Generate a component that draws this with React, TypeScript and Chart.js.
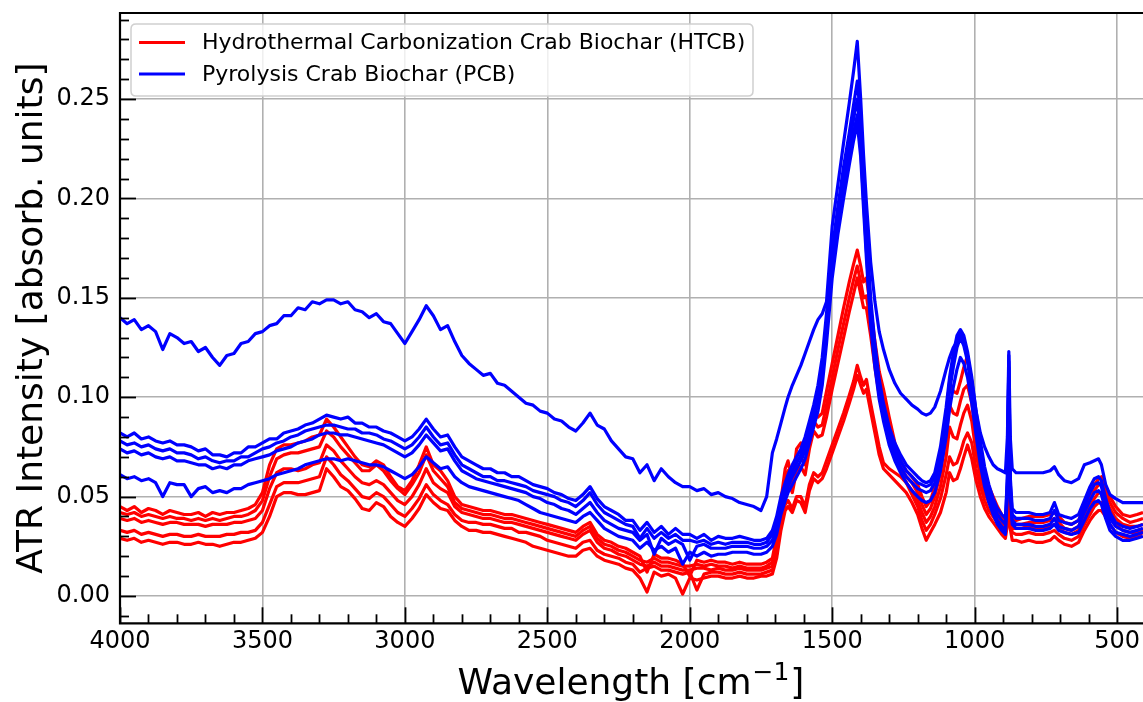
import React, { useEffect, useRef } from "react";
import { Chart, registerables } from "chart.js";

Chart.register(...registerables);

// Wavenumber axis shared by every spectrum (cm^-1)
const WAVENUMBERS = [
  4000, 3975, 3950, 3925, 3900, 3875, 3850, 3825, 3800, 3775,
  3750, 3725, 3700, 3675, 3650, 3625, 3600, 3575, 3550, 3525,
  3500, 3475, 3450, 3425, 3400, 3375, 3350, 3325, 3300, 3275,
  3250, 3225, 3200, 3175, 3150, 3125, 3100, 3075, 3050, 3025,
  3000, 2975, 2950, 2925, 2900, 2875, 2850, 2825, 2800, 2775,
  2750, 2725, 2700, 2675, 2650, 2625, 2600, 2575, 2550, 2525,
  2500, 2475, 2450, 2425, 2400, 2375, 2350, 2325, 2300, 2275,
  2250, 2225, 2200, 2175, 2150, 2125, 2100, 2075, 2050, 2025,
  2000, 1975, 1950, 1925, 1900, 1875, 1850, 1825, 1800, 1775,
  1750,
  1730, 1710, 1695, 1680, 1665, 1655, 1640, 1625, 1610, 1595,
  1580, 1565, 1550, 1535, 1520, 1500, 1480, 1460, 1440, 1425,
  1412, 1400, 1390, 1380, 1365, 1350, 1335, 1320, 1300, 1280,
  1260, 1240, 1220, 1200, 1185, 1170, 1155, 1140, 1120, 1100,
  1088, 1075, 1062, 1050, 1038, 1025, 1010, 995, 980, 965,
  950, 935, 920, 905, 892, 885, 880, 875, 868, 855,
  835, 810, 785, 760, 735, 720, 705, 685, 660, 635,
  615, 595, 580, 565, 555, 540, 525, 505, 480, 455,
  430, 409,
];

// Pyrolysis crab biochar (PCB) replicates, absorbance units
const PCB_1 = [
  .140, .137, .139, .134, .136, .133, .124, .132, .130, .127,
  .128, .123, .125, .120, .116, .121, .122, .127, .128, .132,
  .133, .136, .137, .141, .141, .145, .144, .148, .147, .149,
  .149, .147, .148, .144, .143, .140, .142, .138, .137, .132,
  .127, .133, .139, .146, .141, .134, .136, .128, .121, .117,
  .114, .111, .112, .107, .106, .103, .100, .097, .096, .093,
  .092, .089, .088, .085, .083, .087, .092, .086, .084, .078,
  .074, .070, .069, .062, .066, .058, .064, .060, .057, .055,
  .055, .053, .054, .051, .052, .050, .049, .047, .046, .045,
  .043,
  .050, .072, .079, .087, .095, .100, .106, .111, .116, .122,
  .128, .134, .139, .142, .148, .186, .207, .228, .248, .264,
  .279, .250, .222, .198, .168, .148, .133, .124, .114, .107,
  .102, .099, .096, .094, .092, .091, .092, .095, .103, .114,
  .120, .125, .128, .129, .127, .120, .108, .093, .082, .075,
  .070, .066, .064, .063, .062, .080, .123, .080, .064, .062,
  .062, .062, .062, .062, .063, .065, .061, .058, .057, .059,
  .066, .067, .068, .069, .066, .056, .051, .049, .047, .047,
  .047, .047,
];

const PCB_2 = [
  .082, .080, .082, .079, .080, .078, .077, .078, .076, .076,
  .075, .073, .074, .071, .071, .070, .072, .072, .075, .075,
  .077, .079, .079, .082, .083, .084, .086, .087, .089, .091,
  .090, .089, .090, .087, .087, .085, .085, .083, .082, .080,
  .078, .080, .084, .089, .084, .080, .081, .075, .070, .068,
  .066, .064, .064, .062, .062, .060, .060, .058, .056, .055,
  .054, .052, .051, .049, .048, .051, .055, .049, .045, .043,
  .041, .038, .038, .033, .037, .032, .035, .031, .034, .031,
  .031, .029, .031, .028, .030, .029, .029, .030, .029, .028,
  .028,
  .029, .033, .040, .050, .057, .061, .066, .070, .074, .080,
  .088, .096, .106, .120, .142, .174, .196, .216, .233, .247,
  .259, .240, .212, .186, .150, .127, .109, .097, .085, .077,
  .071, .066, .063, .060, .058, .057, .058, .062, .075, .095,
  .110, .122, .131, .134, .131, .123, .110, .093, .078, .065,
  .056, .049, .044, .041, .039, .060, .121, .060, .044, .042,
  .042, .042, .041, .041, .042, .047, .041, .040, .039, .041,
  .048, .055, .059, .060, .058, .049, .042, .037, .035, .034,
  .035, .036,
];

const PCB_3 = [
  .078, .076, .077, .075, .076, .074, .073, .074, .072, .072,
  .071, .069, .070, .068, .067, .068, .068, .070, .070, .072,
  .074, .075, .077, .078, .080, .081, .083, .084, .085, .086,
  .086, .085, .084, .084, .082, .082, .081, .079, .078, .076,
  .074, .076, .080, .085, .080, .076, .077, .071, .066, .064,
  .062, .060, .060, .058, .058, .057, .056, .055, .053, .052,
  .051, .050, .048, .047, .045, .048, .052, .046, .042, .040,
  .038, .036, .035, .029, .034, .029, .032, .029, .031, .028,
  .028, .027, .028, .026, .027, .026, .027, .027, .027, .026,
  .026,
  .027, .031, .037, .047, .054, .058, .063, .067, .071, .077,
  .085, .093, .102, .116, .137, .170, .191, .210, .227, .240,
  .250, .232, .205, .180, .145, .123, .106, .094, .082, .074,
  .068, .063, .060, .057, .056, .055, .056, .060, .072, .092,
  .107, .119, .128, .132, .129, .121, .107, .089, .074, .061,
  .052, .046, .041, .038, .036, .058, .118, .057, .041, .039,
  .039, .039, .038, .038, .039, .043, .038, .037, .036, .038,
  .045, .052, .056, .057, .055, .046, .039, .035, .033, .032,
  .033, .034,
];

const PCB_4 = [
  .074, .072, .073, .071, .072, .070, .069, .070, .068, .068,
  .067, .066, .066, .064, .065, .064, .066, .066, .068, .069,
  .070, .071, .073, .074, .075, .077, .078, .079, .081, .082,
  .082, .081, .081, .080, .079, .078, .077, .076, .074, .072,
  .070, .072, .076, .081, .077, .073, .074, .068, .063, .061,
  .059, .058, .057, .056, .055, .054, .053, .052, .050, .049,
  .047, .046, .044, .043, .041, .044, .047, .042, .038, .036,
  .034, .033, .032, .028, .031, .021, .029, .026, .028, .026,
  .018, .025, .026, .024, .024, .024, .025, .025, .025, .024,
  .024,
  .025, .028, .034, .044, .051, .055, .060, .064, .068, .073,
  .081, .089, .098, .111, .132, .165, .186, .205, .221, .233,
  .242, .225, .199, .174, .140, .119, .102, .091, .079, .071,
  .065, .060, .057, .054, .053, .052, .053, .057, .069, .088,
  .103, .115, .125, .130, .126, .118, .103, .085, .070, .058,
  .049, .043, .038, .035, .033, .055, .115, .054, .038, .036,
  .036, .036, .035, .035, .036, .039, .035, .034, .033, .035,
  .042, .048, .052, .053, .051, .043, .036, .032, .031, .030,
  .031, .032,
];

const PCB_5 = [
  .061, .059, .060, .058, .059, .057, .050, .057, .056, .056,
  .050, .054, .055, .052, .053, .052, .054, .054, .056, .057,
  .058, .059, .061, .062, .063, .064, .066, .067, .068, .069,
  .069, .068, .069, .068, .067, .066, .066, .065, .063, .061,
  .059, .061, .065, .070, .067, .064, .065, .060, .057, .055,
  .054, .053, .052, .051, .050, .049, .048, .046, .044, .042,
  .041, .040, .039, .038, .037, .040, .042, .038, .034, .032,
  .030, .029, .028, .024, .027, .023, .025, .022, .024, .016,
  .022, .020, .022, .020, .021, .021, .022, .022, .022, .021,
  .021,
  .022, .025, .031, .041, .048, .052, .056, .060, .064, .069,
  .077, .085, .093, .106, .127, .160, .182, .200, .217, .229,
  .238, .221, .195, .170, .136, .115, .099, .088, .076, .068,
  .062, .057, .053, .050, .048, .047, .048, .052, .063, .080,
  .094, .105, .114, .120, .117, .110, .097, .081, .066, .055,
  .047, .041, .036, .033, .031, .052, .110, .051, .036, .034,
  .034, .034, .033, .033, .034, .036, .033, .032, .031, .032,
  .038, .044, .047, .048, .046, .039, .033, .030, .028, .028,
  .029, .030,
];

// Hydrothermal carbonization crab biochar (HTCB) replicates, absorbance units
const HTCB_1 = [
  .045, .043, .045, .042, .044, .043, .041, .043, .042, .041,
  .041, .042, .040, .042, .041, .042, .042, .043, .044, .046,
  .052, .066, .074, .076, .076, .077, .078, .080, .081, .089,
  .085, .080, .075, .070, .066, .065, .068, .066, .060, .055,
  .053, .058, .066, .075, .066, .063, .058, .050, .046, .045,
  .044, .043, .043, .042, .041, .041, .040, .039, .038, .037,
  .036, .035, .034, .033, .032, .035, .037, .031, .028, .027,
  .025, .024, .022, .020, .012, .021, .019, .019, .018, .016,
  .010, .018, .017, .018, .017, .017, .016, .017, .016, .016,
  .016,
  .017, .019, .030, .048, .064, .068, .057, .074, .077, .072,
  .084, .092, .090, .092, .103, .117, .131, .145, .158, .167,
  .174, .166, .158, .160, .145, .128, .113, .104, .090, .077,
  .068, .063, .060, .056, .050, .045, .048, .055, .070, .090,
  .108, .103, .102, .108, .115, .121, .108, .088, .072, .062,
  .055, .050, .045, .041, .038, .046, .068, .044, .038, .038,
  .039, .040, .040, .040, .041, .042, .040, .037, .036, .038,
  .046, .052, .056, .059, .060, .055, .050, .045, .041, .040,
  .041, .042,
];

const HTCB_2 = [
  .042, .041, .042, .040, .041, .040, .039, .040, .039, .039,
  .038, .039, .038, .039, .038, .039, .040, .040, .041, .043,
  .048, .060, .069, .071, .072, .072, .073, .074, .075, .083,
  .080, .075, .071, .067, .063, .063, .066, .063, .058, .054,
  .051, .056, .062, .071, .063, .059, .055, .047, .044, .043,
  .042, .041, .041, .040, .039, .039, .038, .037, .036, .035,
  .034, .033, .032, .031, .030, .033, .035, .029, .026, .025,
  .023, .022, .020, .018, .017, .019, .017, .017, .016, .015,
  .015, .016, .015, .016, .015, .015, .014, .015, .014, .014,
  .014,
  .015, .017, .027, .045, .060, .063, .054, .068, .070, .066,
  .079, .088, .085, .086, .096, .110, .124, .137, .150, .159,
  .166, .158, .150, .151, .137, .120, .106, .099, .085, .073,
  .065, .060, .057, .052, .046, .041, .044, .050, .062, .080,
  .096, .092, .091, .098, .104, .106, .097, .080, .066, .057,
  .051, .046, .042, .039, .036, .044, .064, .042, .036, .036,
  .036, .037, .037, .037, .038, .039, .037, .034, .033, .035,
  .042, .049, .053, .056, .057, .052, .047, .042, .039, .037,
  .038, .039,
];

const HTCB_3 = [
  .039, .038, .039, .037, .038, .037, .036, .037, .037, .036,
  .036, .036, .035, .036, .036, .036, .037, .037, .038, .039,
  .043, .054, .062, .064, .064, .063, .064, .066, .067, .076,
  .073, .068, .064, .060, .057, .056, .058, .056, .052, .048,
  .046, .050, .056, .064, .057, .054, .052, .045, .042, .041,
  .040, .039, .039, .038, .037, .037, .036, .035, .034, .033,
  .032, .031, .030, .029, .028, .031, .033, .027, .024, .023,
  .021, .020, .018, .016, .015, .017, .015, .015, .014, .013,
  .013, .014, .014, .013, .014, .013, .013, .014, .013, .013,
  .013,
  .014, .015, .025, .042, .055, .058, .052, .063, .065, .061,
  .074, .083, .080, .081, .090, .104, .117, .130, .143, .152,
  .160, .152, .145, .145, .131, .115, .101, .094, .080, .070,
  .063, .057, .053, .048, .042, .037, .040, .045, .055, .070,
  .085, .080, .079, .086, .092, .096, .088, .072, .060, .052,
  .047, .043, .040, .037, .034, .042, .060, .040, .034, .034,
  .034, .035, .034, .034, .035, .036, .034, .032, .031, .033,
  .039, .045, .049, .052, .052, .048, .044, .039, .036, .035,
  .035, .036,
];

const HTCB_4 = [
  .033, .032, .033, .031, .032, .031, .030, .031, .031, .030,
  .030, .031, .030, .030, .030, .031, .031, .032, .032, .033,
  .037, .046, .055, .057, .057, .057, .058, .059, .060, .070,
  .066, .061, .058, .054, .050, .049, .052, .050, .046, .042,
  .040, .044, .049, .056, .051, .048, .046, .041, .038, .037,
  .037, .036, .036, .035, .034, .034, .032, .032, .031, .030,
  .028, .027, .026, .025, .024, .027, .028, .023, .021, .020,
  .019, .017, .016, .012, .014, .015, .013, .013, .012, .011,
  .012, .003, .011, .012, .012, .011, .011, .012, .011, .011,
  .011,
  .012, .013, .021, .036, .046, .048, .044, .050, .050, .045,
  .056, .062, .060, .062, .068, .076, .084, .092, .101, .108,
  .116, .110, .106, .109, .097, .086, .075, .067, .064, .062,
  .060, .057, .051, .045, .038, .033, .036, .041, .049, .061,
  .070, .066, .067, .072, .078, .082, .077, .064, .055, .048,
  .043, .040, .037, .034, .032, .039, .056, .037, .032, .031,
  .031, .032, .031, .031, .032, .033, .031, .029, .028, .030,
  .036, .041, .045, .047, .047, .044, .040, .036, .033, .032,
  .032, .033,
];

const HTCB_5 = [
  .029, .028, .029, .027, .028, .027, .026, .027, .027, .026,
  .026, .027, .026, .026, .025, .026, .027, .027, .028, .029,
  .032, .040, .050, .052, .052, .051, .051, .052, .053, .064,
  .060, .055, .053, .049, .044, .043, .047, .045, .040, .037,
  .035, .039, .044, .051, .047, .044, .043, .038, .035, .033,
  .033, .032, .032, .031, .030, .029, .028, .027, .025, .024,
  .023, .022, .021, .020, .020, .023, .024, .020, .018, .017,
  .016, .014, .013, .009, .002, .012, .010, .011, .009, .001,
  .009, .008, .009, .010, .010, .009, .009, .010, .009, .009,
  .010,
  .010, .011, .019, .033, .043, .045, .042, .048, .047, .042,
  .053, .059, .057, .059, .064, .072, .080, .088, .097, .104,
  .111, .106, .102, .104, .093, .082, .071, .064, .061, .058,
  .055, .052, .047, .041, .034, .028, .032, .036, .042, .052,
  .062, .058, .059, .064, .070, .076, .069, .058, .050, .044,
  .040, .037, .034, .031, .029, .036, .052, .034, .028, .028,
  .027, .028, .027, .027, .028, .030, .028, .026, .025, .027,
  .033, .038, .041, .043, .043, .040, .036, .032, .030, .029,
  .030, .032,
];

const PCB_SERIES = [PCB_1, PCB_2, PCB_3, PCB_4, PCB_5];
const HTCB_SERIES = [HTCB_1, HTCB_2, HTCB_3, HTCB_4, HTCB_5];

const HTCB_LABEL = "Hydrothermal Carbonization Crab Biochar (HTCB)";
const PCB_LABEL = "Pyrolysis Crab Biochar (PCB)";

const X_TICKS = [500, 1000, 1500, 2000, 2500, 3000, 3500, 4000];
const Y_TICKS = [0, 0.05, 0.1, 0.15, 0.2, 0.25];

const RED = "#ff0000";
const BLUE = "#0000ff";
const FONT = "'DejaVu Sans', 'Liberation Sans', sans-serif";

const toPoints = (values: number[]) =>
  WAVENUMBERS.map((wn, i) => ({ x: wn, y: values[i] }));

// Inward tick marks, spines, legend and axis titles
const decorations = {
  id: "decorations",
  afterDatasetsDraw(chart: any) {
    const { ctx, chartArea, scales } = chart;
    const { left, right, top, bottom } = chartArea;
    const xs = scales.x;
    const ys = scales.y;
    ctx.save();
    ctx.strokeStyle = "#000";
    ctx.lineWidth = 1.8;
    ctx.lineCap = "butt";

    // x ticks (major every 500, minor every 100)
    for (let v = 400; v <= 4000; v += 100) {
      const px = Math.round(xs.getPixelForValue(v)) + 0.5;
      if (px < left - 1 || px > right + 1) continue;
      const len = v % 500 === 0 ? 16 : 9;
      ctx.beginPath();
      ctx.moveTo(px, bottom);
      ctx.lineTo(px, bottom - len);
      ctx.stroke();
    }
    // y ticks (major every 0.05, minor every 0.01)
    for (let i = -1; i <= 29; i++) {
      const py = Math.round(ys.getPixelForValue(i / 100)) + 0.5;
      if (py < top - 1 || py > bottom + 1) continue;
      const len = i % 5 === 0 ? 16 : 9;
      ctx.beginPath();
      ctx.moveTo(left, py);
      ctx.lineTo(left + len, py);
      ctx.stroke();
    }

    // spines
    ctx.lineWidth = 2.2;
    ctx.beginPath();
    ctx.moveTo(right + 2, top);
    ctx.lineTo(left, top);
    ctx.lineTo(left, bottom);
    ctx.lineTo(right + 2, bottom);
    ctx.stroke();

    // legend
    const bx = 131, by = 24, bw = 622, bh = 72, r = 5;
    ctx.beginPath();
    ctx.moveTo(bx + r, by);
    ctx.lineTo(bx + bw - r, by);
    ctx.quadraticCurveTo(bx + bw, by, bx + bw, by + r);
    ctx.lineTo(bx + bw, by + bh - r);
    ctx.quadraticCurveTo(bx + bw, by + bh, bx + bw - r, by + bh);
    ctx.lineTo(bx + r, by + bh);
    ctx.quadraticCurveTo(bx, by + bh, bx, by + bh - r);
    ctx.lineTo(bx, by + r);
    ctx.quadraticCurveTo(bx, by, bx + r, by);
    ctx.closePath();
    ctx.fillStyle = "rgba(255,255,255,0.8)";
    ctx.fill();
    ctx.strokeStyle = "#d0d0d0";
    ctx.lineWidth = 1.5;
    ctx.stroke();

    const entries = [
      { label: HTCB_LABEL, color: RED, y: 42.5 },
      { label: PCB_LABEL, color: BLUE, y: 74 },
    ];
    ctx.font = `22px ${FONT}`;
    ctx.textAlign = "left";
    ctx.textBaseline = "middle";
    for (const e of entries) {
      ctx.strokeStyle = e.color;
      ctx.lineWidth = 3;
      ctx.beginPath();
      ctx.moveTo(139, e.y);
      ctx.lineTo(185, e.y);
      ctx.stroke();
      ctx.fillStyle = "#000";
      ctx.fillText(e.label, 202, e.y + 1);
    }

    // y-axis title
    ctx.fillStyle = "#000";
    ctx.save();
    ctx.translate(42, (top + bottom) / 2);
    ctx.rotate(-Math.PI / 2);
    ctx.font = `36px ${FONT}`;
    ctx.textAlign = "center";
    ctx.textBaseline = "alphabetic";
    ctx.fillText("ATR Intensity [absorb. units]", 0, 0);
    ctx.restore();

    // x-axis title with superscript
    const main1 = "Wavelength [cm";
    const sup = "\u22121";
    const main2 = "]";
    ctx.textAlign = "left";
    ctx.textBaseline = "alphabetic";
    ctx.font = `36px ${FONT}`;
    const w1 = ctx.measureText(main1).width;
    const w3 = ctx.measureText(main2).width;
    ctx.font = `25px ${FONT}`;
    const w2 = ctx.measureText(sup).width;
    const total = w1 + w2 + w3 + 2;
    const cx = (left + 1142) / 2;
    const base = 694;
    let x0 = cx - total / 2;
    ctx.font = `36px ${FONT}`;
    ctx.fillText(main1, x0, base);
    x0 += w1 + 1;
    ctx.font = `25px ${FONT}`;
    ctx.fillText(sup, x0, base - 14);
    x0 += w2 + 1;
    ctx.font = `36px ${FONT}`;
    ctx.fillText(main2, x0, base);

    ctx.restore();
  },
};

export default function App() {
  const canvasRef = useRef<HTMLCanvasElement | null>(null);

  useEffect(() => {
    const canvas = canvasRef.current;
    if (!canvas) return;

    const datasets: any[] = [];
    PCB_SERIES.forEach((s, i) =>
      datasets.push({
        label: `${PCB_LABEL} ${i + 1}`,
        data: toPoints(s),
        borderColor: BLUE,
        borderWidth: 3.2,
        pointRadius: 0,
        tension: 0,
        fill: false,
        borderJoinStyle: "round",
      })
    );
    HTCB_SERIES.forEach((s, i) =>
      datasets.push({
        label: `${HTCB_LABEL} ${i + 1}`,
        data: toPoints(s),
        borderColor: RED,
        borderWidth: 3.2,
        pointRadius: 0,
        tension: 0,
        fill: false,
        borderJoinStyle: "round",
      })
    );

    const chart = new Chart(canvas, {
      type: "line",
      data: { datasets },
      options: {
        animation: false,
        responsive: false,
        devicePixelRatio: 1,
        layout: { padding: { top: 13, left: 0, right: 0, bottom: 0 } },
        plugins: {
          legend: { display: false },
          tooltip: { enabled: false },
          title: { display: false },
        },
        scales: {
          x: {
            type: "linear",
            reverse: true,
            min: 409,
            max: 4000,
            afterBuildTicks: (axis: any) => {
              axis.ticks = X_TICKS.map((v) => ({ value: v }));
            },
            afterFit: (axis: any) => {
              axis.height = 702 - 623.3;
              axis.paddingLeft = 0;
              axis.paddingRight = 0;
            },
            grid: {
              color: "#b0b0b0",
              lineWidth: 1.6,
              drawTicks: false,
            },
            border: { display: false },
            ticks: {
              color: "#000",
              padding: 4,
              maxRotation: 0,
              autoSkip: false,
              font: { family: FONT, size: 24 },
              callback: (v: any) => String(v),
            },
          },
          y: {
            type: "linear",
            min: -0.01375,
            max: 0.2933,
            afterBuildTicks: (axis: any) => {
              axis.ticks = Y_TICKS.map((v) => ({ value: v }));
            },
            afterFit: (axis: any) => {
              axis.width = 120;
              axis.paddingTop = 0;
              axis.paddingBottom = 0;
            },
            grid: {
              color: "#b0b0b0",
              lineWidth: 1.6,
              drawTicks: false,
            },
            border: { display: false },
            ticks: {
              color: "#000",
              padding: 10,
              autoSkip: false,
              font: { family: FONT, size: 24 },
              callback: (v: any) => Number(v).toFixed(2),
            },
          },
        },
      },
      plugins: [decorations],
    });

    return () => chart.destroy();
  }, []);

  return (
    <div
      style={{
        position: "fixed",
        left: 0,
        top: 0,
        width: 1143,
        height: 702,
        background: "#fff",
      }}
    >
      <canvas
        ref={canvasRef}
        width={1143}
        height={702}
        style={{ display: "block", width: 1143, height: 702 }}
      />
    </div>
  );
}
